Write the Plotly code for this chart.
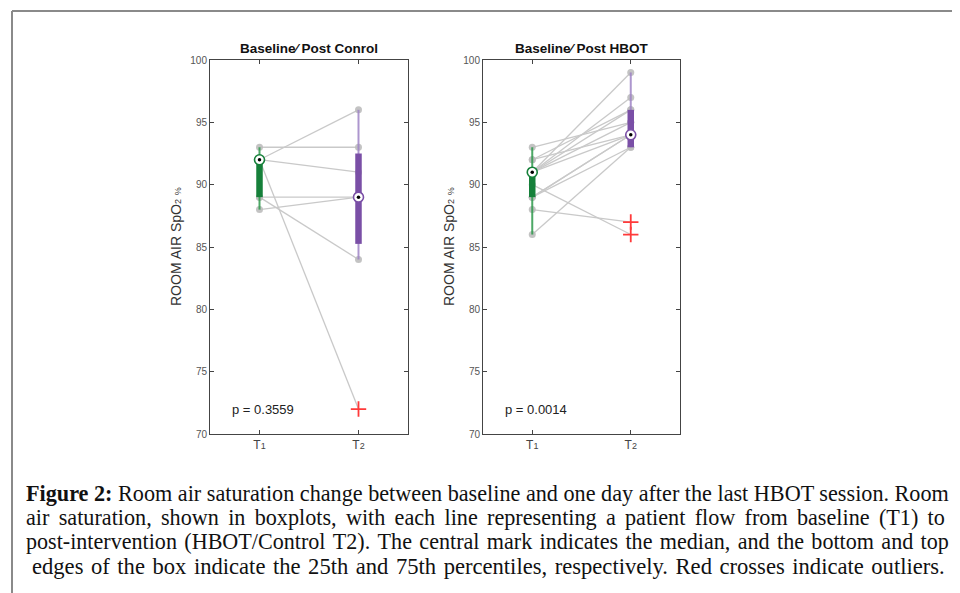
import numpy as np
import plotly.graph_objects as go

# ---------------- data ----------------
groups = ["T1", "T2"]
control_t1 = [93, 92, 92, 92, 89, 89, 88]
control_t2 = [93, 96, 91, 72, 89, 84, 89]
hbot_t1 = [86, 88, 90, 93, 92, 92, 91, 91, 91, 91, 91, 89, 89, 89]
hbot_t2 = [93, 87, 86, 95, 96, 94, 99, 97, 96, 95, 94, 94, 93, 94]
panel_titles = ["Baseline\u2044 Post Conrol", "Baseline\u2044 Post HBOT"]
p_values = ["p = 0.3559", "p = 0.0014"]
y_ticks = [70, 75, 80, 85, 90, 95, 100]
caption_lines = [
    "<b>Figure 2:</b> Room air saturation change between baseline and one day after the last HBOT session. Room",
    "air saturation, shown in boxplots, with each line representing a patient flow from baseline (T1) to",
    "post-intervention (HBOT/Control T2). The central mark indicates the median, and the bottom and top",
    "edges of the box indicate the 25th and 75th percentiles, respectively. Red crosses indicate outliers.",
]

GREEN = "#16803a"
GREEN_W = "#2e9a4c"
PURPLE = "#7a4fa6"
PURPLE_W = "#9f84c6"
GREY = "#c9c9c9"
DOT = "#bcbcbc"
RED = "#ff3a3a"

W, H = 960, 593
OX, OY = 8, 8  # page body margin


def px(x):
    return (x - OX) / W


def py(y):
    return 1 - (y - OY) / H


def box_stats(v):
    a = np.sort(np.asarray(v, float))
    q1, med, q3 = np.percentile(a, [25, 50, 75], method="hazen")
    iqr = q3 - q1
    lo_f, hi_f = q1 - 1.5 * iqr, q3 + 1.5 * iqr
    mask = (a >= lo_f) & (a <= hi_f)
    return dict(q1=q1, med=med, q3=q3, lo=a[mask].min(), hi=a[mask].max(),
                out=a[~mask], lo_f=lo_f, hi_f=hi_f)


fig = go.Figure()

panels = [(control_t1, control_t2, "x", "y"), (hbot_t1, hbot_t2, "x2", "y2")]
for t1, t2, xa, ya in panels:
    lx, ly = [], []
    for a, b in zip(t1, t2):
        lx += [1, 2, None]
        ly += [a, b, None]
    fig.add_trace(go.Scatter(x=lx, y=ly, mode="lines", line=dict(color=GREY, width=1.3),
                             xaxis=xa, yaxis=ya, hoverinfo="skip", showlegend=False))
    for pos, vals, col, wcol in [(1, t1, GREEN, GREEN_W), (2, t2, PURPLE, PURPLE_W)]:
        s = box_stats(vals)
        inl = [v for v in vals if s["lo_f"] <= v <= s["hi_f"]]
        fig.add_trace(go.Scatter(x=[pos] * len(inl), y=inl, mode="markers",
                                 marker=dict(color=DOT, size=7, opacity=0.9), xaxis=xa, yaxis=ya,
                                 hoverinfo="skip", showlegend=False))
        fig.add_trace(go.Scatter(x=[pos, pos], y=[s["lo"], s["hi"]], mode="lines",
                                 line=dict(color=wcol, width=2), opacity=0.85, xaxis=xa, yaxis=ya,
                                 hoverinfo="skip", showlegend=False))
        fig.add_trace(go.Scatter(x=[pos, pos], y=[s["q1"], s["q3"]], mode="lines",
                                 line=dict(color=col, width=6.5), xaxis=xa, yaxis=ya,
                                 hoverinfo="skip", showlegend=False))
        fig.add_trace(go.Scatter(x=[pos], y=[s["med"]], mode="markers",
                                 marker=dict(color="white", size=10, line=dict(color=col, width=1.6)),
                                 xaxis=xa, yaxis=ya, hoverinfo="skip", showlegend=False))
        fig.add_trace(go.Scatter(x=[pos], y=[s["med"]], mode="markers",
                                 marker=dict(color="black", size=3.5),
                                 xaxis=xa, yaxis=ya, hoverinfo="skip", showlegend=False))
        if len(s["out"]):
            fig.add_trace(go.Scatter(x=[pos] * len(s["out"]), y=list(s["out"]), mode="markers",
                                     marker=dict(symbol="cross-thin", size=11,
                                                 line=dict(color=RED, width=1.8)),
                                     xaxis=xa, yaxis=ya, hoverinfo="skip", showlegend=False))

ytop, ybot = 60, 434
dom_y = [py(ybot), py(ytop)]
x_doms = [[px(210), px(408)], [px(483), px(680)]]
tick_text = ["T<span style='font-size:9px'>1</span>", "T<span style='font-size:9px'>2</span>"]

axis_common = dict(showline=True, linecolor="#444", linewidth=1, mirror="ticks", automargin=False,
                   ticks="inside", ticklen=4, tickcolor="#444", showgrid=False, zeroline=False)

layout = dict(width=W, height=H, margin=dict(l=0, r=0, t=0, b=0),
              paper_bgcolor="white", plot_bgcolor="white", showlegend=False)
for i, (xd, xn, yn) in enumerate(zip(x_doms, ["xaxis", "xaxis2"], ["yaxis", "yaxis2"])):
    xanchor = "y" if i == 0 else "y2"
    yanchor = "x" if i == 0 else "x2"
    layout[xn] = dict(domain=xd, range=[0.5, 2.5], tickvals=[1, 2], ticktext=tick_text,
                      anchor=xanchor, tickfont=dict(family="Liberation Sans, Arial", size=12, color="#444"),
                      **axis_common)
    layout[yn] = dict(domain=dom_y, range=[70, 100], tickvals=y_ticks, anchor=yanchor,
                      tickfont=dict(family="Liberation Sans, Arial", size=10, color="#555"),
                      **axis_common)
fig.update_layout(**layout)

annotations = []
for i, xd in enumerate(x_doms):
    cx = (xd[0] + xd[1]) / 2
    annotations.append(dict(text="<b>" + panel_titles[i] + "</b>", x=cx, y=py(48), xref="paper", yref="paper",
                            showarrow=False, font=dict(family="Liberation Sans, Arial", size=13.5, color="#111"),
                            xanchor="center", yanchor="middle"))
    annotations.append(dict(text="ROOM AIR SpO<span style='font-size:9px'>2</span> <span style='font-size:9px'>%</span>",
                            x=xd[0] - 34 / W, y=(dom_y[0] + dom_y[1]) / 2, xref="paper", yref="paper",
                            textangle=-90, showarrow=False,
                            font=dict(family="Liberation Sans, Arial", size=14, color="#333"),
                            xanchor="center", yanchor="middle"))
    xr = "x" if i == 0 else "x2"
    yr = "y" if i == 0 else "y2"
    annotations.append(dict(text=p_values[i], x=0.7, y=72, xref=xr, yref=yr, showarrow=False,
                            xanchor="left", yanchor="middle",
                            font=dict(family="Liberation Sans, Arial", size=13, color="#222")))

HS = "\u200a"  # hair space for justification
cap_y = [493, 517, 541, 566]
cap_x = [24, 24, 24, 30]
cap_extra = [0, 2, 1, 1]
cap_size = [22.2, 22.2, 22.1, 22.6]
for txt, yy, xx, ex, fs in zip(caption_lines, cap_y, cap_x, cap_extra, cap_size):
    if ex:
        txt = txt.replace(" ", " " + HS * ex)
    annotations.append(dict(text=txt, x=px(xx), y=py(yy), xref="paper", yref="paper", showarrow=False,
                            xanchor="left", yanchor="middle",
                            font=dict(family="Liberation Serif, Times New Roman", size=fs, color="#111")))
fig.update_layout(annotations=annotations)

fig.update_layout(shapes=[
    dict(type="line", xref="paper", yref="paper", x0=px(12), x1=1, y0=py(11), y1=py(11),
         line=dict(color="#8a8a8a", width=2)),
    dict(type="line", xref="paper", yref="paper", x0=px(12), x1=px(12), y0=0, y1=py(11),
         line=dict(color="#8a8a8a", width=2)),
])

fig.write_html("out.html")
